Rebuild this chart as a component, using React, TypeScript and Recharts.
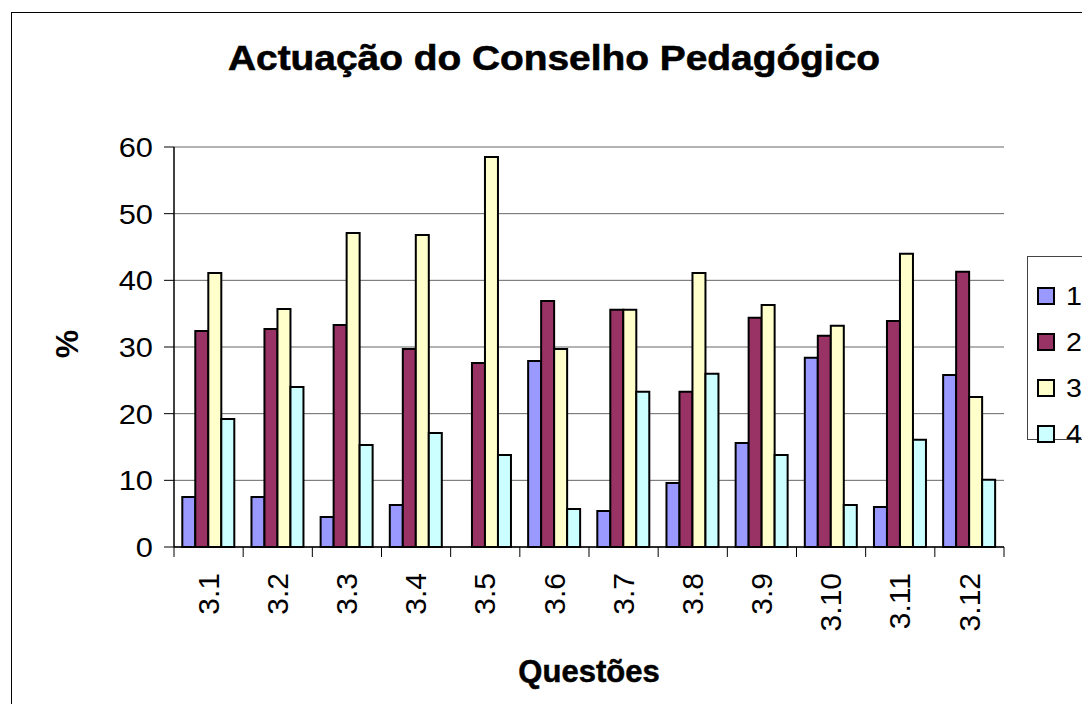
import { BarChart, Bar, XAxis, YAxis, CartesianGrid, Legend } from "recharts";

const questoes = ["3.1", "3.2", "3.3", "3.4", "3.5", "3.6", "3.7", "3.8", "3.9", "3.10", "3.11", "3.12"];
const serie1 = [7.5, 7.5, 4.5, 6.3, 0, 27.9, 5.4, 9.6, 15.6, 28.4, 6.0, 25.8];
const serie2 = [32.4, 32.7, 33.3, 29.7, 27.6, 36.9, 35.6, 23.3, 34.4, 31.7, 33.9, 41.3];
const serie3 = [41.1, 35.7, 47.1, 46.8, 58.5, 29.7, 35.6, 41.1, 36.3, 33.2, 44.0, 22.5];
const serie4 = [19.2, 24.0, 15.3, 17.1, 13.8, 5.7, 23.3, 26.0, 13.8, 6.3, 16.1, 10.1];
const yTicks = [0, 10, 20, 30, 40, 50, 60];

const data = questoes.map((q, i) => ({
    q,
    s1: serie1[i],
    s2: serie2[i],
    s3: serie3[i],
    s4: serie4[i],
}));

const FONT = "'Liberation Sans', Arial, sans-serif";
const PLOT_LEFT = 174;
const PLOT_RIGHT = 1004;
const STEP = (PLOT_RIGHT - PLOT_LEFT) / questoes.length;

function YTick({ x, y, payload }: any) {
    return (
        <text
            transform={`translate(${x},${y}) scale(1.1,1)`}
            textAnchor="end"
            dy="0.36em"
            fontSize={28}
            fontFamily={FONT}
            fill="#000"
        >
            {payload.value}
        </text>
    );
}

function XTick({ x, y, payload, index }: any) {
    const left = x - STEP / 2;
    return (
        <g>
            <line x1={left} y1={y} x2={left} y2={y + 10} stroke="#000" />
            {index === questoes.length - 1 && (
                <line x1={left + STEP} y1={y} x2={left + STEP} y2={y + 10} stroke="#000" />
            )}
            <g transform={`translate(${x},${y})`}>
                <text
                    transform="rotate(-90)"
                    x={-26}
                    dy="0.34em"
                    textAnchor="end"
                    fontSize={30}
                    fontFamily={FONT}
                    fill="#000"
                >
                    {payload.value}
                </text>
            </g>
        </g>
    );
}

// legend drawn as an overflowing box so it takes no layout space
function LegendBox({ payload }: any) {
    return (
        <div
            style={{
                border: "1px solid #444",
                background: "#fff",
                boxSizing: "border-box",
                width: 100,
                height: 184,
                paddingTop: 16,
            }}
        >
            {(payload || []).map((p: any) => (
                <div key={p.value} style={{ display: "flex", alignItems: "center", height: 46 }}>
                    <div
                        style={{
                            marginLeft: 9,
                            width: 18,
                            height: 18,
                            boxSizing: "border-box",
                            border: "2px solid #000",
                            background: p.color,
                        }}
                    />
                    <span
                        style={{
                            marginLeft: 11,
                            fontSize: 26,
                            fontFamily: FONT,
                            lineHeight: "26px",
                            display: "inline-block",
                            transform: "scaleX(1.1)",
                            transformOrigin: "left center",
                        }}
                    >
                        {p.value}
                    </span>
                </div>
            ))}
        </div>
    );
}

export default function App() {
    return (
        <div
            style={{
                position: "absolute",
                left: 0,
                top: 0,
                width: 1082,
                height: 704,
                overflow: "hidden",
                background: "#fff",
            }}
        >
            <div
                style={{
                    position: "absolute",
                    left: 11,
                    top: 12,
                    width: 1200,
                    height: 800,
                    border: "1px solid #000",
                }}
            />
            <BarChart
                width={1082}
                height={704}
                data={data}
                margin={{ top: 147, right: 78, bottom: 17, left: 74 }}
                barCategoryGap="12%"
                barGap={0}
            >
                <CartesianGrid vertical={false} stroke="#666" />
                <XAxis
                    dataKey="q"
                    interval={0}
                    height={140}
                    tickSize={0}
                    tickMargin={0}
                    tickLine={false}
                    tick={<XTick />}
                    axisLine={{ stroke: "#000", strokeWidth: 1.5 }}
                />
                <YAxis
                    domain={[0, 60]}
                    ticks={yTicks}
                    width={100}
                    tickSize={10}
                    tickMargin={11}
                    tick={<YTick />}
                    tickLine={{ stroke: "#000" }}
                    axisLine={{ stroke: "#000", strokeWidth: 1.5 }}
                />
                <YAxis
                    yAxisId="right"
                    orientation="right"
                    width={0}
                    domain={[0, 60]}
                    tick={false}
                    tickLine={false}
                    axisLine={{ stroke: "#999" }}
                />
                <Legend
                    content={<LegendBox />}
                    wrapperStyle={{
                        position: "absolute",
                        left: 1027,
                        top: 256,
                        width: 0,
                        height: 0,
                        overflow: "visible",
                    }}
                />
                <Bar dataKey="s1" name="1" fill="#9999FF" stroke="#000" strokeWidth={2} isAnimationActive={false} />
                <Bar dataKey="s2" name="2" fill="#993366" stroke="#000" strokeWidth={2} isAnimationActive={false} />
                <Bar dataKey="s3" name="3" fill="#FFFFCC" stroke="#000" strokeWidth={2} isAnimationActive={false} />
                <Bar dataKey="s4" name="4" fill="#CCFFFF" stroke="#000" strokeWidth={2} isAnimationActive={false} />
            </BarChart>
            <svg
                width={1082}
                height={704}
                style={{ position: "absolute", left: 0, top: 0, pointerEvents: "none" }}
            >
                <text
                    x={228}
                    y={70}
                    textLength={652}
                    lengthAdjust="spacingAndGlyphs"
                    fontSize={35}
                    fontWeight="bold"
                    fontFamily={FONT}
                    stroke="#000"
                    strokeWidth={0.6}
                >
                    Actuação do Conselho Pedagógico
                </text>
                <text
                    transform="translate(78,344) rotate(-90)"
                    textAnchor="middle"
                    fontSize={32}
                    fontWeight="bold"
                    fontFamily={FONT}
                >
                    %
                </text>
                <text
                    x={589}
                    y={682}
                    textAnchor="middle"
                    fontSize={31}
                    fontWeight="bold"
                    fontFamily={FONT}
                    stroke="#000"
                    strokeWidth={0.5}
                >
                    Questões
                </text>
            </svg>
        </div>
    );
}
